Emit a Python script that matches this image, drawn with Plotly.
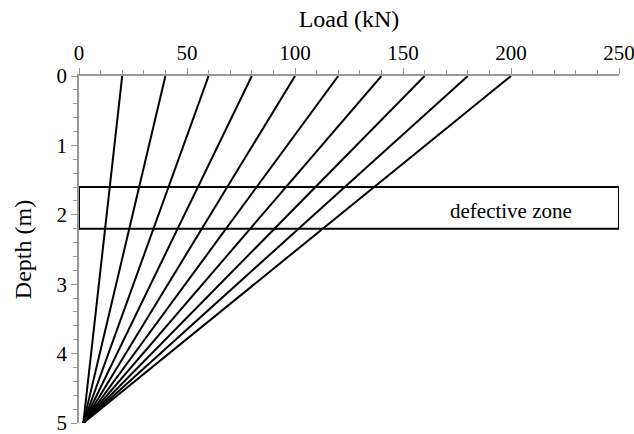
import plotly.graph_objects as go

top_loads = [20, 40, 60, 80, 100, 120, 140, 160, 180, 200]
tip_load = 2
depth_top = 0
depth_tip = 5
zone_top = 1.6
zone_bottom = 2.2
zone_label = "defective zone"
x_ticks = [0, 50, 100, 150, 200, 250]
y_ticks = [0, 1, 2, 3, 4, 5]

fig = go.Figure()
for q in top_loads:
    fig.add_trace(go.Scatter(x=[q, tip_load], y=[depth_top, depth_tip], mode="lines",
                             line=dict(color="black", width=2), showlegend=False,
                             cliponaxis=False))

fig.add_shape(type="rect", x0=0, x1=250, y0=zone_top, y1=zone_bottom,
              xref="x", yref="y", line=dict(color="black", width=2))
fig.add_annotation(x=200, y=1.94, text=zone_label, showarrow=False,
                   font=dict(family="Liberation Serif", size=21, color="black"))

axis_font = dict(family="Liberation Serif", size=21, color="black")
title_font = dict(family="Liberation Serif", size=24, color="black")
fig.update_layout(
    width=634, height=434,
    margin=dict(l=79, r=15, t=76, b=11),
    plot_bgcolor="white", paper_bgcolor="white",
    font=axis_font,
    xaxis=dict(side="top", range=[0, 250], tickmode="array", tickvals=x_ticks,
               ticklabeloverflow="allow", automargin=False,
               showgrid=False, zeroline=False,
               showline=True, linecolor="#999", linewidth=1.5, ticks="outside",
               ticklen=6, tickcolor="#999", tickfont=axis_font,
               minor=dict(dtick=10, ticks="outside", ticklen=4, tickcolor="#999"),
               title=dict(text="Load (kN)", font=title_font, standoff=6)),
    yaxis=dict(range=[5, 0], tickmode="array", tickvals=y_ticks,
               ticklabeloverflow="allow", automargin=False,
               showgrid=False, zeroline=False,
               showline=True, linecolor="#999", linewidth=1.5, ticks="outside",
               ticklen=6, tickcolor="#999", tickfont=axis_font,
               minor=dict(dtick=0.2, ticks="outside", ticklen=4, tickcolor="#999"),
               title=dict(text="Depth (m)", font=title_font, standoff=18)),
)
fig.write_html("out.html")
